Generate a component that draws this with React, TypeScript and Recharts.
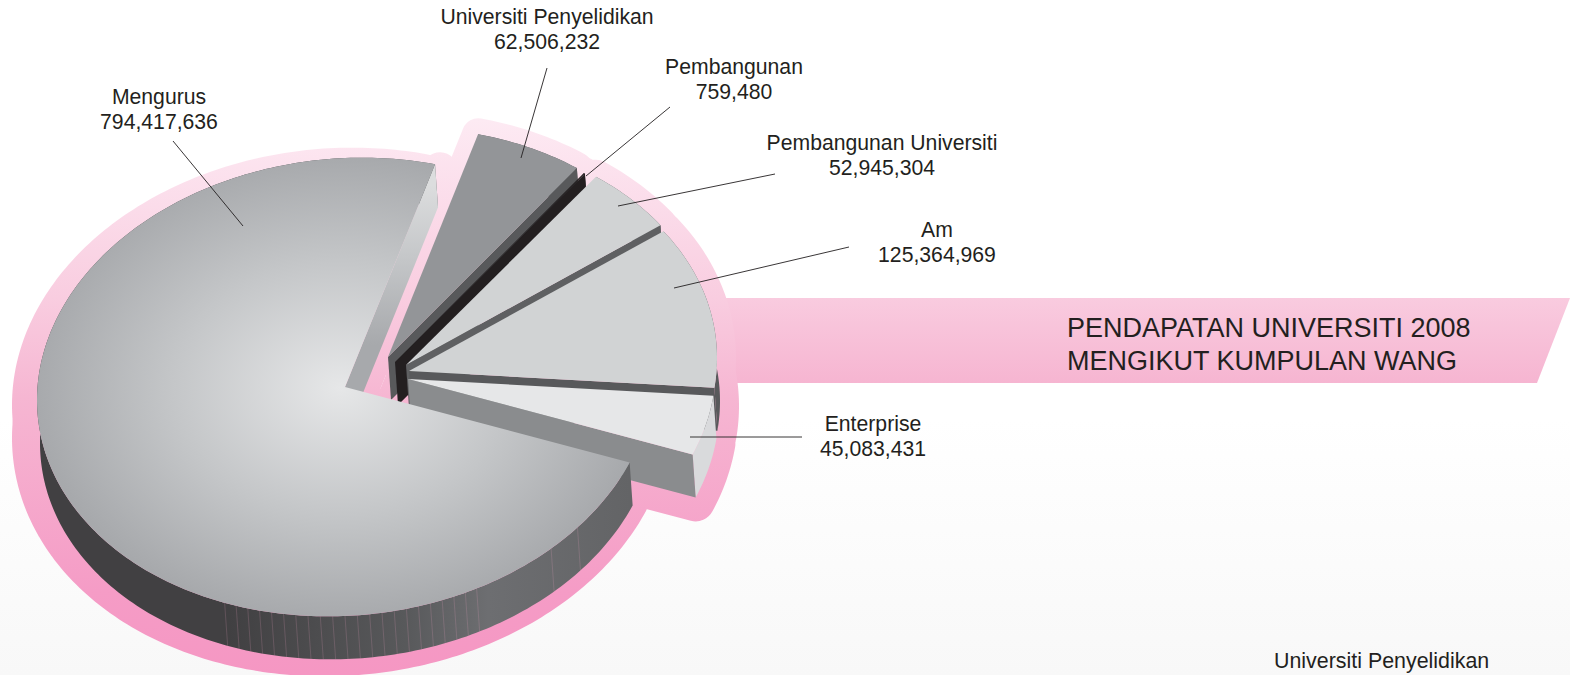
import { PieChart, Pie } from 'recharts'

const names = ['Universiti Penyelidikan', 'Pembangunan', 'Pembangunan Universiti', 'Am', 'Enterprise', 'Mengurus']
const values = [62506232, 759480, 52945304, 125364969, 45083431, 794417636]
const data = names.map((name, i) => ({ name, value: values[i] }))

const titleLines = ['PENDAPATAN UNIVERSITI 2008', 'MENGIKUT KUMPULAN WANG']
const strayLabel = 'Universiti Penyelidikan'

const WIDTH = 1570
const HEIGHT = 675
const CX = 345
const CY = 387
const RADIUS = 229
const X_SCALE = 1.345
const SHEAR = -13 / 229
const DEPTH = { x: 3, y: 43 }
const TEXT = '#231f20'
const FONT = '"Liberation Sans", Arial, sans-serif'

// how far each wedge is pulled out of the pie, and its faces
const sliceStyle: Record<string, { dx: number; dy: number; halo: number; top: string; edge: string; rim: string }> = {
  'Universiti Penyelidikan': { dx: 43, dy: -30, halo: 32, top: '#939598', edge: '#58595b', rim: '#58595b' },
  Pembangunan: { dx: 50, dy: -25, halo: 32, top: '#231f20', edge: '#231f20', rim: '#231f20' },
  'Pembangunan Universiti': { dx: 61, dy: -22, halo: 34, top: '#d1d3d4', edge: '#5f6062', rim: '#5f6062' },
  Am: { dx: 64, dy: -16, halo: 38, top: '#d1d3d4', edge: '#58595b', rim: '#58595b' },
  Enterprise: { dx: 63, dy: -8, halo: 38, top: '#e6e7e8', edge: '#8a8c8e', rim: '#d9dadc' },
  Mengurus: { dx: 0, dy: 0, halo: 30, top: 'url(#mainTop)', edge: 'url(#mainBand)', rim: 'url(#mainWall)' },
}

const labelSpots: Record<string, { x: number; y: number; line: number[] }> = {
  'Universiti Penyelidikan': { x: 547, y: 24, line: [547, 68, 521, 158] },
  Pembangunan: { x: 734, y: 74, line: [670, 107, 586, 176] },
  'Pembangunan Universiti': { x: 882, y: 150, line: [775, 174, 618, 206] },
  Am: { x: 937, y: 237, line: [849, 247, 674, 288] },
  Enterprise: { x: 873, y: 431, line: [802, 437, 690, 437] },
  Mengurus: { x: 159, y: 104, line: [173, 141, 243, 226] },
}

type Pt = [number, number]

// flat pie -> tilted ellipse
function project(cx: number, cy: number, r: number, deg: number): Pt {
  const a = (deg * Math.PI) / 180
  const c = Math.cos(a)
  const s = Math.sin(a)
  return [cx + r * c * X_SCALE, cy - r * s + r * c * SHEAR]
}

function arcPoints(cx: number, cy: number, r: number, from: number, to: number): Pt[] {
  const steps = Math.max(2, Math.ceil(Math.abs(to - from)))
  const pts: Pt[] = []
  for (let i = 0; i <= steps; i++) pts.push(project(cx, cy, r, from + ((to - from) * i) / steps))
  return pts
}

const toPath = (pts: Pt[]) => 'M' + pts.map((p) => `${p[0].toFixed(2)},${p[1].toFixed(2)}`).join('L') + 'Z'

function wedgePath(cx: number, cy: number, r: number, from: number, to: number) {
  return toPath([[cx, cy], ...arcPoints(cx, cy, r, from, to)])
}

function renderBackdrop(props: any) {
  const { cx, cy, outerRadius: r, startAngle, endAngle } = props
  const name = props.name ?? props.payload?.name
  const st = sliceStyle[name]
  const x = cx + st.dx
  const y = cy + st.dy
  const pink = 'url(#pink)'
  if (name === 'Mengurus') {
    const tip = project(x, y, r, endAngle)
    return (
      <g>
        <path d={wedgePath(x - 10, y + 5, r, startAngle, endAngle)} fill={pink} stroke={pink} strokeWidth={30} strokeLinejoin="round" />
        <path d={wedgePath(x - 3, y + 38, r, startAngle, endAngle)} fill={pink} stroke={pink} strokeWidth={44} strokeLinejoin="round" />
        <path d={toPath([[x, y], [tip[0] + 5, tip[1] + 6], [tip[0] + 5, tip[1] + 40]])} fill={pink} stroke={pink} strokeWidth={36} strokeLinejoin="round" />
      </g>
    )
  }
  return (
    <g>
      <path d={wedgePath(x, y, r, startAngle, endAngle)} fill={pink} stroke={pink} strokeWidth={st.halo} strokeLinejoin="round" />
      <path d={wedgePath(x + DEPTH.x, y + DEPTH.y + 5, r, startAngle, endAngle)} fill={pink} stroke={pink} strokeWidth={st.halo} strokeLinejoin="round" />
    </g>
  )
}

function renderSlice(props: any) {
  const { cx, cy, outerRadius: r, startAngle, endAngle } = props
  const name = props.name ?? props.payload?.name
  const st = sliceStyle[name]
  const x = cx + st.dx
  const y = cy + st.dy
  const topArc = arcPoints(x, y, r, startAngle, endAngle)
  const lowArc = arcPoints(x + DEPTH.x, y + DEPTH.y, r, startAngle, endAngle)
  const tip = topArc[topArc.length - 1]
  const tipLow = lowArc[lowArc.length - 1]
  const hatches: [Pt, Pt][] = []
  if (name === 'Mengurus') {
    // faint seams left on the rim
    for (let deg = 247; deg <= 296; deg += 2.3) {
      hatches.push([project(x, y, r, deg), project(x + DEPTH.x, y + DEPTH.y, r, deg)])
    }
    for (const deg of [312, 319]) hatches.push([project(x, y, r, deg), project(x + DEPTH.x, y + DEPTH.y, r, deg)])
  }
  return (
    <g>
      <path d={toPath([...topArc, ...lowArc.slice().reverse()])} fill={st.rim} />
      {hatches.map((h, i) => (
        <line key={i} x1={h[0][0]} y1={h[0][1]} x2={h[1][0]} y2={h[1][1]} stroke="#f4a6c8" strokeOpacity={0.3} strokeWidth={0.6} />
      ))}
      <path d={toPath([[x, y], tip, tipLow, [x + DEPTH.x, y + DEPTH.y]])} fill={st.edge} />
      <path d={wedgePath(x, y, r, startAngle, endAngle)} fill={st.top} />
    </g>
  )
}

function renderLabel(props: any) {
  const name = props.name ?? props.payload?.name
  const spot = labelSpots[name]
  const [x1, y1, x2, y2] = spot.line
  return (
    <g key={name}>
      <line x1={x1} y1={y1} x2={x2} y2={y2} stroke={TEXT} strokeWidth={0.9} />
      <text x={spot.x} y={spot.y} textAnchor="middle" fontFamily={FONT} fontSize={21.2} fill={TEXT}>
        {name}
      </text>
      <text x={spot.x} y={spot.y + 25} textAnchor="middle" fontFamily={FONT} fontSize={21.2} fill={TEXT}>
        {props.value.toLocaleString('en-US')}
      </text>
    </g>
  )
}

export default function App() {
  return (
    <div style={{ position: 'absolute', left: 0, top: 0, width: WIDTH, height: HEIGHT, overflow: 'hidden', background: 'linear-gradient(#ffffff 0%, #ffffff 62%, #f8f8f8 100%)' }}>
      <div
        style={{
          position: 'absolute',
          left: 700,
          top: 298,
          width: 870,
          height: 85,
          background: 'linear-gradient(#f9cbdf, #f6b5d1)',
          clipPath: 'polygon(0 0, 100% 0, 837px 100%, 0 100%)',
        }}
      />
      <div style={{ position: 'absolute', left: 0, top: 0 }}>
        <PieChart width={WIDTH} height={HEIGHT} margin={{ top: 0, right: 0, bottom: 0, left: 0 }}>
          <defs>
            <linearGradient id="pink" gradientUnits="userSpaceOnUse" x1="0" y1="120" x2="0" y2="675">
              <stop offset="0" stopColor="#fdeaf3" />
              <stop offset="0.32" stopColor="#f9cde0" />
              <stop offset="0.5" stopColor="#f6b6d2" />
              <stop offset="0.85" stopColor="#f59cc6" />
              <stop offset="1" stopColor="#f597c3" />
            </linearGradient>
            <radialGradient id="mainTop" gradientUnits="userSpaceOnUse" cx="0" cy="0" r="1" gradientTransform="translate(340 388) scale(305 232)">
              <stop offset="0" stopColor="#e6e7e8" />
              <stop offset="0.55" stopColor="#c4c6c8" />
              <stop offset="1" stopColor="#a7a9ac" />
            </radialGradient>
            <linearGradient id="mainBand" gradientUnits="userSpaceOnUse" x1="0" y1="185" x2="0" y2="345">
              <stop offset="0" stopColor="#dcddde" />
              <stop offset="0.45" stopColor="#c5c7c9" />
              <stop offset="1" stopColor="#a7a9ac" />
            </linearGradient>
            <linearGradient id="mainWall" gradientUnits="userSpaceOnUse" x1="40" y1="0" x2="630" y2="0">
              <stop offset="0" stopColor="#414042" />
              <stop offset="0.32" stopColor="#414042" />
              <stop offset="0.62" stopColor="#58595b" />
              <stop offset="0.76" stopColor="#6d6e71" />
              <stop offset="1" stopColor="#636466" />
            </linearGradient>
          </defs>
          <Pie
            data={data}
            dataKey="value"
            nameKey="name"
            cx={CX}
            cy={CY}
            innerRadius={0}
            outerRadius={RADIUS}
            startAngle={73}
            endAngle={-287}
            stroke="none"
            labelLine={false}
            isAnimationActive={false}
            shape={renderBackdrop}
          />
          <Pie
            data={data}
            dataKey="value"
            nameKey="name"
            cx={CX}
            cy={CY}
            innerRadius={0}
            outerRadius={RADIUS}
            startAngle={73}
            endAngle={-287}
            stroke="none"
            labelLine={false}
            label={renderLabel}
            isAnimationActive={false}
            shape={renderSlice}
          />
        </PieChart>
      </div>
      <div style={{ position: 'absolute', left: 1067, top: 312, fontFamily: FONT, fontSize: 27, lineHeight: '32.5px', color: TEXT, whiteSpace: 'nowrap' }}>
        {titleLines.map((t) => (
          <div key={t}>{t}</div>
        ))}
      </div>
      <div style={{ position: 'absolute', left: 1274, top: 649, fontFamily: FONT, fontSize: 21.4, color: TEXT, whiteSpace: 'nowrap' }}>{strayLabel}</div>
    </div>
  )
}
